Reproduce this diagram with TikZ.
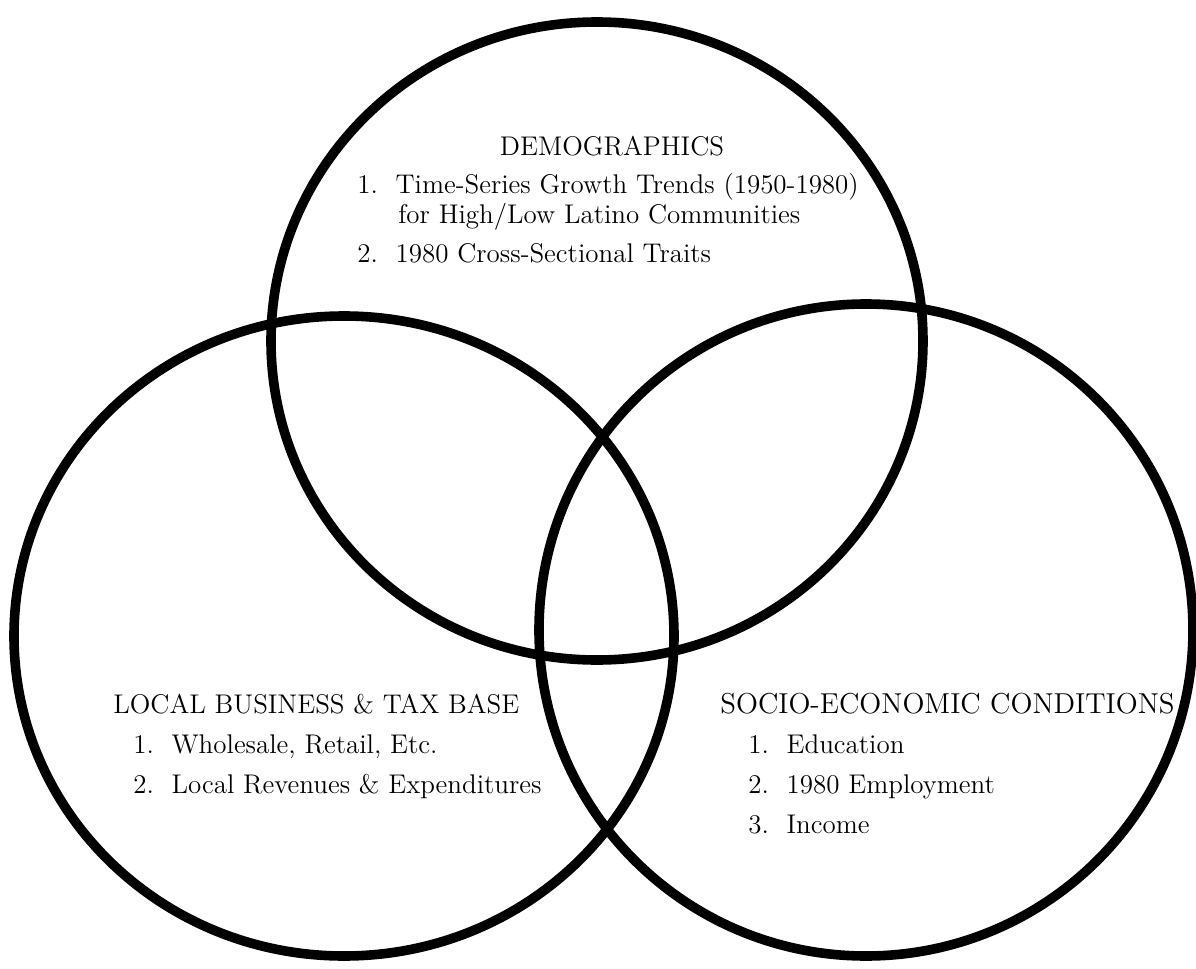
\documentclass[tikz,border=0pt]{standalone}
\usetikzlibrary{shapes.geometric}
\begin{document}
\begin{tikzpicture}[x=0.5pt,y=-0.5pt,
  venn/.style={draw=black, line width=4.8pt, ellipse, inner sep=0pt, outer sep=0pt},
  txt/.style={anchor=base west, inner sep=0pt, font=\fontsize{13.5}{16}\selectfont},
  head/.style={txt}]
\useasboundingbox (0,0) rectangle (1196,969);
\node[venn, minimum width=326pt, minimum height=319pt] (top) at (597,341) {};
\node[venn, minimum width=330pt, minimum height=320pt] (left) at (344,636) {};
\node[venn, minimum width=327pt, minimum height=326pt] (right) at (866,630) {};
% demographics
\node[head, anchor=base] (dh) at (612,155) {DEMOGRAPHICS};
\node[txt] (d1) at (357,193) {1.\ \ Time-Series Growth Trends (1950-1980)};
\node[txt] (d1b) at (398,223) {for High/Low Latino Communities};
\node[txt] (d2) at (357,262) {2.\ \ 1980 Cross-Sectional Traits};
% local business
\node[head] (lh) at (113,713) {LOCAL BUSINESS \& TAX BASE};
\node[txt] (l1) at (133,753) {1.\ \ Wholesale, Retail, Etc.};
\node[txt] (l2) at (133,793) {2.\ \ Local Revenues \& Expenditures};
% socio-economic
\node[head, font=\fontsize{14.4}{17}\selectfont] (sh) at (720,713) {SOCIO-ECONOMIC CONDITIONS};
\node[txt] (s1) at (748,753) {1.\ \ Education};
\node[txt] (s2) at (748,793) {2.\ \ 1980 Employment};
\node[txt] (s3) at (748,833) {3.\ \ Income};
\end{tikzpicture}
\end{document}
